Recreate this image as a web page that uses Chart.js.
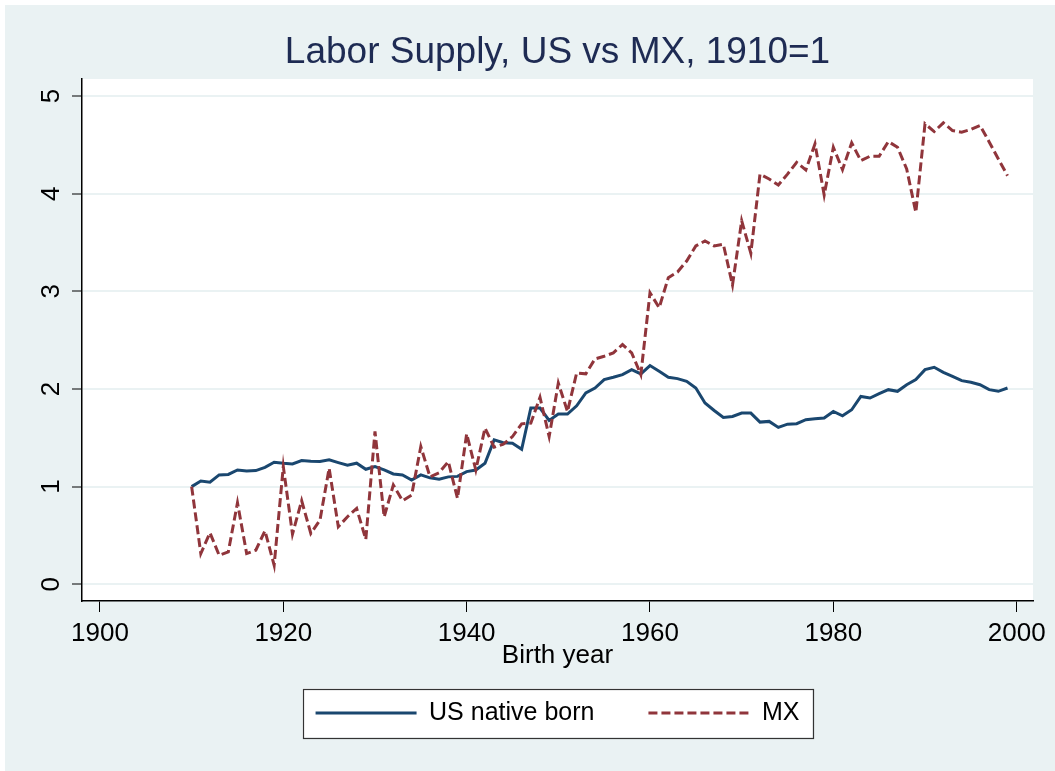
<!DOCTYPE html>
<html><head><meta charset="utf-8">
<script src="https://cdn.jsdelivr.net/npm/chart.js@4/dist/chart.umd.min.js"></script>
<style>
html,body{margin:0;padding:0;background:#ffffff;}
#wrap{position:absolute;left:5px;top:5px;width:1050px;height:766px;background:#EAF2F3;}
canvas{display:block;}
</style></head><body>
<div id="wrap"><canvas id="c" width="1050" height="766"></canvas></div>
<script>
// ---- data ----
const years = [1910,1911,1912,1913,1914,1915,1916,1917,1918,1919,
  1920,1921,1922,1923,1924,1925,1926,1927,1928,1929,
  1930,1931,1932,1933,1934,1935,1936,1937,1938,1939,
  1940,1941,1942,1943,1944,1945,1946,1947,1948,1949,
  1950,1951,1952,1953,1954,1955,1956,1957,1958,1959,
  1960,1961,1962,1963,1964,1965,1966,1967,1968,1969,
  1970,1971,1972,1973,1974,1975,1976,1977,1978,1979,
  1980,1981,1982,1983,1984,1985,1986,1987,1988,1989,
  1990,1991,1992,1993,1994,1995,1996,1997,1998,1999];
const usNativeBorn = [1.00,1.058,1.045,1.12,1.125,1.171,1.16,1.164,1.198,1.25,
  1.24,1.233,1.267,1.26,1.257,1.274,1.246,1.219,1.24,1.178,
  1.205,1.171,1.13,1.12,1.068,1.12,1.09,1.075,1.10,1.105,
  1.154,1.17,1.24,1.479,1.45,1.445,1.383,1.805,1.805,1.678,
  1.743,1.743,1.828,1.959,2.01,2.096,2.12,2.147,2.198,2.154,
  2.24,2.181,2.12,2.106,2.078,2.01,1.856,1.78,1.708,1.719,
  1.753,1.753,1.661,1.668,1.606,1.64,1.644,1.685,1.695,1.702,
  1.77,1.726,1.787,1.924,1.907,1.952,1.993,1.976,2.044,2.096,
  2.198,2.222,2.171,2.13,2.085,2.068,2.044,1.993,1.976,2.01];
const mexico = [1.00,0.315,0.527,0.298,0.332,0.835,0.315,0.349,0.548,0.195,
  1.205,0.514,0.856,0.521,0.657,1.188,0.589,0.692,0.777,0.459,
  1.565,0.69,1.017,0.856,0.914,1.41,1.10,1.143,1.256,0.88,
  1.54,1.17,1.60,1.404,1.435,1.513,1.643,1.65,1.914,1.513,
  2.06,1.77,2.164,2.155,2.308,2.335,2.37,2.455,2.37,2.147,
  2.986,2.832,3.14,3.198,3.31,3.465,3.516,3.465,3.482,3.065,
  3.722,3.39,4.2,4.15,4.088,4.2,4.32,4.243,4.51,3.986,
  4.475,4.246,4.52,4.338,4.383,4.383,4.533,4.475,4.253,3.808,
  4.715,4.636,4.725,4.646,4.63,4.657,4.698,4.53,4.355,4.184];
const seriesNames = ['US native born', 'MX'];
const xTickValues = [1900, 1920, 1940, 1960, 1980, 2000];
const xTickLabels = ['1900', '1920', '1940', '1960', '1980', '2000'];
const yTickValues = [0, 1, 2, 3, 4, 5];
const yTickLabels = ['0', '1', '2', '3', '4', '5'];
const chartTitle = 'Labor Supply, US vs MX, 1910=1';
const xAxisTitle = 'Birth year';

// ---- styling ----
const FONT = "'Liberation Sans', Arial, Helvetica, sans-serif";
Chart.defaults.font.family = FONT;
Chart.defaults.color = '#000';

const stataPlugin = {
  id: 'stataFrame',
  beforeDraw(chart) {
    const {ctx, chartArea: a} = chart;
    ctx.save();
    ctx.fillStyle = '#ffffff';
    ctx.fillRect(a.left, a.top, a.right - a.left, a.bottom - a.top);
    const lg = chart.legend;
    if (lg && lg.legendHitBoxes && lg.legendHitBoxes.length) {
      const hb = lg.legendHitBoxes;
      const l = Math.min(...hb.map(h => h.left)) - 13;
      const r = Math.max(...hb.map(h => h.left + h.width)) + 13;
      const t = Math.min(...hb.map(h => h.top)) - 12;
      const b = Math.max(...hb.map(h => h.top + h.height)) + 12;
      ctx.fillRect(l, t, r - l, b - t);
      ctx.strokeStyle = '#333333';
      ctx.lineWidth = 1.2;
      ctx.strokeRect(Math.round(l) + 0.5, Math.round(t) + 0.5, Math.round(r - l), Math.round(b - t));
    }
    ctx.restore();
  }
};

new Chart(document.getElementById('c'), {
  type: 'line',
  data: {
    datasets: [
      {
        label: seriesNames[0],
        data: years.map((yr, i) => ({x: yr, y: usNativeBorn[i]})),
        borderColor: '#1A476F', backgroundColor: '#1A476F',
        borderWidth: 3, pointRadius: 0, tension: 0, fill: false, order: 1
      },
      {
        label: seriesNames[1],
        data: years.map((yr, i) => ({x: yr, y: mexico[i]})),
        borderColor: '#90353B', backgroundColor: '#90353B',
        borderWidth: 3, borderDash: [9, 4], pointRadius: 0, tension: 0, fill: false, order: 0
      }
    ]
  },
  options: {
    responsive: false, animation: false, events: [],
    layout: {padding: {left: 0, top: 0, right: 22, bottom: 35.5}},
    scales: {
      x: {
        type: 'linear', position: 'bottom',
        min: 1898.04, max: 2001.78,
        afterBuildTicks: s => { s.ticks = xTickValues.map(v => ({value: v})); },
        afterFit: s => { s.height = 45.5; },
        ticks: {
          autoSkip: false, maxRotation: 0, minRotation: 0, includeBounds: false,
          padding: 6, color: '#000', font: {size: 26},
          callback: (v, i) => xTickLabels[i]
        },
        grid: {display: true, drawOnChartArea: false, drawTicks: true, tickLength: 11, tickColor: '#000', tickWidth: 1},
        border: {display: true, color: '#000', width: 1.5},
        title: {display: true, text: xAxisTitle, color: '#000', font: {size: 26}, padding: {top: 0, bottom: -25.1}}
      },
      y: {
        type: 'linear', position: 'left',
        min: -0.171, max: 5.174,
        afterBuildTicks: s => { s.ticks = yTickValues.map(v => ({value: v})); },
        afterFit: s => { s.width = 77; },
        ticks: {
          autoSkip: false, minRotation: 90, maxRotation: 90, includeBounds: false,
          crossAlign: 'center', padding: 13, color: '#000', font: {size: 26},
          callback: (v, i) => yTickLabels[i]
        },
        grid: {display: true, drawOnChartArea: true, color: '#EAF2F3', lineWidth: 2, drawTicks: true, tickLength: 10, tickColor: '#000', tickWidth: 1},
        border: {display: true, color: '#000', width: 1.5}
      }
    },
    plugins: {
      title: {
        display: true, text: chartTitle, fullSize: false, color: '#1E2B53',
        font: {size: 37, weight: 'normal'}, padding: {top: 25.8, bottom: 3.8}
      },
      legend: {
        display: true, position: 'bottom', align: 'center', fullSize: false,
        labels: {
          font: {size: 25}, color: '#000', padding: 54,
          usePointStyle: true, pointStyle: 'line', pointStyleWidth: 101,
          generateLabels: chart => chart.data.datasets.map((ds, i) => ({
            text: ds.label, datasetIndex: i, hidden: false,
            strokeStyle: ds.borderColor, fillStyle: ds.borderColor,
            lineWidth: ds.borderWidth, lineDash: ds.borderDash || [], lineCap: 'butt',
            pointStyle: 'line', fontColor: '#000'
          }))
        }
      },
      tooltip: {enabled: false}
    }
  },
  plugins: [stataPlugin]
});
</script>
</body></html>
